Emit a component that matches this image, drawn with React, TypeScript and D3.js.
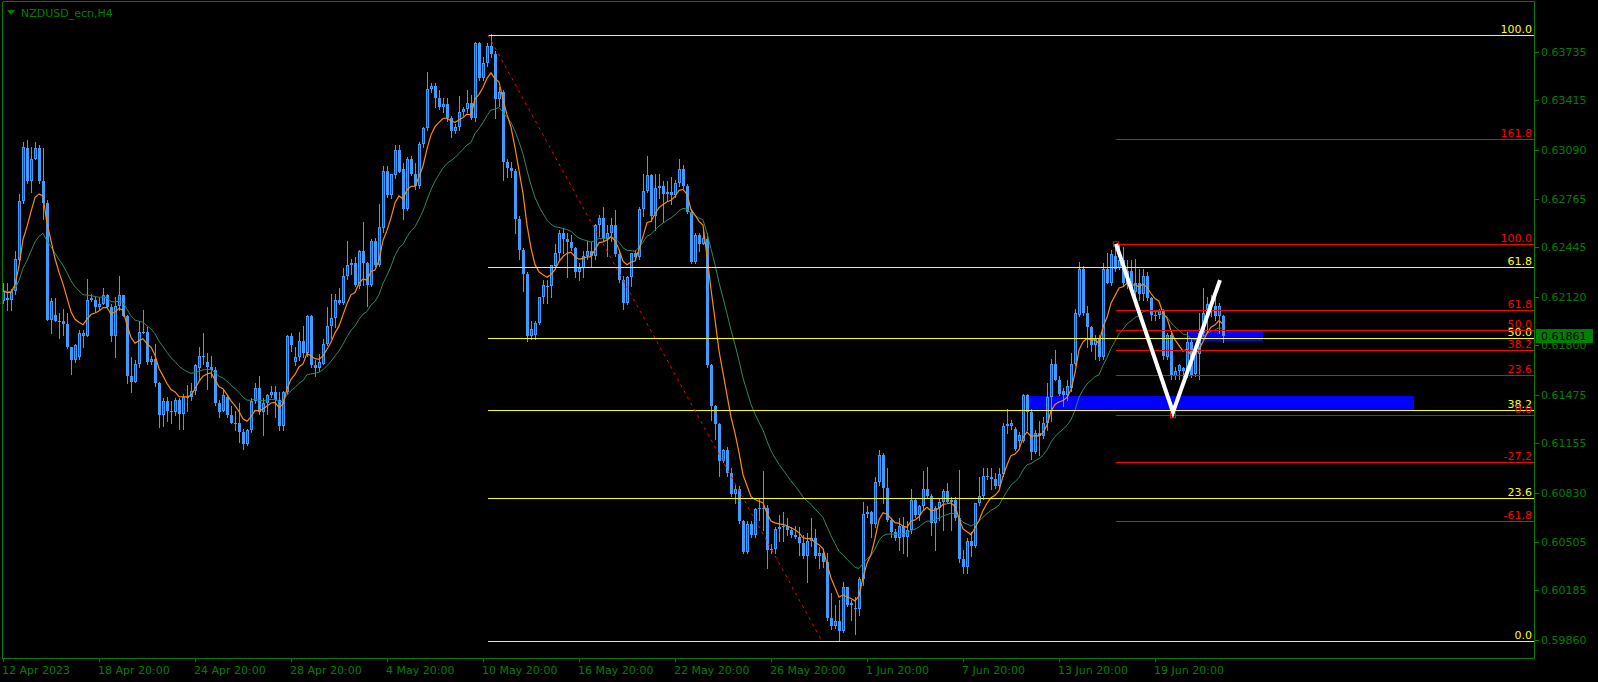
import * as d3 from "d3";

const W = 1598;
const H = 682;

// H4 candles: [open, high, low, close] in pips (price * 10000)
const candles: [number, number, number, number][] = [
  [6209,6221,6208,6216],[6211,6221,6203,6210],[6210,6217,6203,6216],[6216,6242,6214,6237],[6236,6280,6236,6275],
  [6275,6314,6274,6311],[6310,6315,6287,6288],[6288,6311,6281,6303],[6303,6314,6303,6310],[6310,6312,6287,6288],
  [6288,6310,6263,6274],[6274,6276,6197,6197],[6197,6211,6188,6209],[6200,6211,6196,6196],[6196,6201,6185,6196],
  [6196,6204,6187,6194],[6194,6201,6178,6179],[6179,6179,6161,6170],[6170,6181,6169,6180],[6172,6190,6171,6188],
  [6186,6190,6179,6188],[6186,6224,6186,6210],[6210,6214,6209,6211],[6210,6212,6202,6205],[6205,6211,6204,6207],
  [6207,6218,6207,6213],[6213,6214,6205,6205],[6205,6207,6183,6186],[6186,6212,6172,6206],[6206,6226,6203,6213],
  [6213,6213,6199,6199],[6199,6200,6155,6160],[6160,6172,6149,6156],[6156,6170,6156,6168],[6168,6196,6166,6189],
  [6189,6203,6188,6189],[6189,6192,6168,6169],[6169,6173,6168,6171],[6171,6181,6153,6155],[6155,6156,6126,6134],
  [6134,6145,6127,6143],[6143,6146,6130,6137],[6137,6143,6129,6137],[6136,6145,6134,6144],[6144,6145,6125,6135],
  [6135,6148,6125,6146],[6146,6154,6137,6146],[6146,6155,6144,6150],[6150,6168,6148,6167],[6165,6179,6157,6173],
  [6173,6188,6168,6172],[6169,6175,6151,6166],[6166,6173,6159,6164],[6164,6166,6141,6142],[6142,6144,6133,6136],
  [6137,6151,6137,6147],[6146,6147,6133,6134],[6134,6140,6129,6129],[6129,6137,6124,6129],[6129,6142,6116,6123],
  [6123,6125,6112,6115],[6115,6125,6114,6124],[6124,6145,6123,6143],[6143,6155,6142,6152],[6152,6160,6135,6136],
  [6136,6145,6121,6142],[6142,6148,6135,6147],[6147,6153,6146,6149],[6149,6153,6133,6144],[6144,6149,6124,6127],
  [6127,6150,6124,6149],[6149,6187,6148,6186],[6186,6188,6176,6180],[6169,6179,6167,6172],[6172,6189,6170,6183],
  [6183,6193,6172,6175],[6175,6200,6173,6199],[6199,6200,6166,6167],[6167,6170,6160,6165],[6165,6174,6163,6169],
  [6168,6184,6168,6181],[6181,6205,6180,6193],[6193,6214,6185,6198],[6198,6214,6192,6210],[6210,6218,6207,6208],
  [6208,6231,6207,6226],[6226,6249,6224,6233],[6233,6237,6227,6234],[6234,6238,6219,6220],[6219,6243,6218,6242],
  [6242,6261,6220,6234],[6234,6235,6206,6220],[6220,6250,6219,6249],[6249,6251,6232,6233],[6233,6273,6232,6258],
  [6257,6298,6255,6295],[6295,6298,6278,6279],[6279,6293,6277,6293],[6292,6312,6290,6309],[6309,6312,6294,6294],
  [6296,6300,6263,6270],[6270,6304,6269,6303],[6303,6305,6292,6293],[6293,6300,6283,6285],[6285,6314,6284,6313],
  [6313,6324,6311,6323],[6323,6360,6322,6349],[6349,6353,6347,6351],[6351,6353,6337,6343],[6343,6348,6336,6337],
  [6337,6343,6334,6339],[6339,6343,6328,6330],[6330,6331,6317,6321],[6321,6326,6320,6324],[6324,6344,6322,6334],
  [6334,6337,6332,6336],[6336,6348,6334,6340],[6340,6345,6329,6330],[6330,6380,6328,6379],[6379,6380,6355,6356],
  [6356,6370,6355,6366],[6366,6379,6364,6377],[6377,6385,6370,6372],[6372,6374,6330,6342],[6342,6350,6338,6347],
  [6347,6348,6289,6301],[6301,6303,6291,6297],[6297,6301,6291,6295],[6295,6296,6254,6263],[6263,6265,6237,6243],
  [6243,6244,6216,6227],[6227,6228,6183,6186],[6186,6196,6184,6191],[6187,6196,6184,6195],[6195,6212,6194,6212],
  [6212,6223,6208,6220],[6219,6223,6208,6219],[6219,6233,6212,6233],[6232,6247,6231,6241],[6241,6256,6236,6254],
  [6254,6257,6241,6250],[6250,6254,6225,6248],[6248,6253,6243,6244],[6244,6245,6225,6228],[6228,6234,6223,6231],
  [6231,6242,6225,6239],[6239,6249,6237,6242],[6242,6248,6232,6239],[6239,6260,6237,6259],[6259,6266,6252,6264],
  [6264,6271,6249,6250],[6250,6259,6239,6254],[6254,6264,6249,6259],[6259,6269,6239,6240],[6240,6243,6222,6223],
  [6223,6226,6204,6208],[6208,6226,6207,6225],[6225,6241,6219,6241],[6241,6243,6236,6238],[6238,6271,6237,6270],
  [6270,6293,6265,6282],[6282,6305,6281,6292],[6292,6293,6262,6265],[6265,6293,6256,6284],[6284,6293,6277,6285],
  [6285,6288,6261,6280],[6280,6288,6276,6281],[6281,6291,6273,6279],[6279,6289,6278,6287],[6287,6303,6285,6296],
  [6296,6299,6284,6285],[6285,6286,6267,6268],[6268,6270,6234,6235],[6235,6254,6234,6253],[6253,6254,6242,6247],
  [6247,6257,6247,6251],[6250,6254,6166,6167],[6167,6168,6131,6140],[6140,6141,6118,6128],[6128,6129,6094,6104],
  [6104,6112,6103,6111],[6111,6113,6094,6096],[6096,6099,6081,6082],[6082,6088,6076,6085],[6085,6087,6063,6064],
  [6064,6065,6043,6044],[6044,6064,6043,6062],[6062,6064,6054,6055],[6055,6073,6054,6072],[6072,6079,6065,6073],
  [6073,6097,6058,6073],[6073,6075,6033,6045],[6045,6049,6043,6046],[6046,6060,6043,6059],[6059,6068,6051,6060],
  [6060,6070,6051,6061],[6061,6066,6055,6058],[6058,6060,6054,6055],[6055,6061,6053,6054],[6054,6060,6042,6050],
  [6050,6055,6040,6041],[6041,6056,6024,6051],[6051,6066,6048,6053],[6053,6059,6040,6041],[6041,6047,6033,6043],
  [6043,6046,6034,6037],[6037,6043,5999,6000],[6000,6017,5993,5995],[5995,6009,5994,5998],[5998,6012,5986,5992],
  [5992,6024,5991,6021],[6021,6021,6008,6009],[6009,6012,5999,6010],[6007,6014,5990,6006],[6006,6027,6002,6026],
  [6026,6077,6022,6069],[6069,6074,6067,6070],[6070,6071,6054,6062],[6062,6093,6060,6090],[6090,6111,6088,6108],
  [6108,6109,6076,6086],[6086,6099,6064,6065],[6065,6066,6054,6057],[6057,6059,6052,6053],[6053,6066,6045,6061],
  [6061,6067,6043,6054],[6054,6064,6041,6058],[6058,6085,6056,6078],[6078,6079,6067,6068],[6068,6075,6065,6074],
  [6074,6097,6072,6085],[6085,6100,6080,6081],[6081,6082,6055,6063],[6063,6074,6045,6073],[6073,6079,6065,6077],
  [6077,6085,6058,6084],[6084,6089,6077,6077],[6077,6080,6058,6078],[6078,6080,6065,6066],[6066,6098,6037,6039],
  [6039,6045,6030,6034],[6034,6053,6030,6051],[6051,6057,6041,6048],[6048,6076,6047,6076],[6076,6093,6075,6081],
  [6081,6099,6079,6094],[6094,6099,6092,6093],[6093,6099,6085,6092],[6092,6096,6086,6087],[6087,6099,6086,6095],
  [6095,6129,6094,6127],[6128,6138,6122,6127],[6127,6131,6125,6129],[6125,6126,6111,6112],[6117,6123,6113,6121],
  [6117,6148,6116,6147],[6147,6148,6124,6136],[6136,6138,6105,6110],[6110,6124,6109,6122],[6122,6130,6108,6120],
  [6120,6133,6119,6129],[6129,6155,6124,6146],[6146,6171,6130,6168],[6168,6177,6157,6157],[6157,6160,6147,6148],
  [6150,6152,6140,6147],[6147,6157,6144,6153],[6152,6175,6150,6168],[6168,6204,6167,6201],[6200,6235,6199,6230],
  [6230,6232,6200,6201],[6201,6206,6179,6192],[6192,6193,6176,6180],[6180,6187,6171,6185],[6185,6187,6170,6172],
  [6172,6234,6171,6230],[6230,6241,6221,6221],[6221,6243,6220,6240],[6239,6246,6229,6230],[6231,6247,6230,6236],
  [6236,6245,6219,6221],[6221,6236,6218,6229],[6229,6236,6214,6215],[6215,6237,6211,6221],[6221,6230,6210,6214],
  [6214,6230,6210,6226],[6226,6228,6210,6211],[6211,6212,6197,6200],[6200,6203,6197,6199],[6200,6204,6198,6203],
  [6203,6204,6171,6173],[6172,6188,6171,6187],[6187,6188,6158,6160],[6160,6166,6158,6163],[6163,6168,6158,6167],
  [6165,6166,6160,6163],[6163,6189,6159,6182],[6182,6185,6159,6160],[6161,6178,6160,6176],[6174,6201,6158,6188],
  [6188,6218,6186,6201],[6201,6212,6188,6207],[6207,6213,6199,6206],[6206,6212,6197,6199],[6199,6208,6188,6206],
  [6199,6200,6182,6186],
];

const priceTicks = [0.63735, 0.63415, 0.6309, 0.62765, 0.62445, 0.6212, 0.618, 0.61475, 0.61155, 0.6083, 0.60505, 0.60185, 0.5986];
const timeLabels = ["12 Apr 2023", "18 Apr 20:00", "24 Apr 20:00", "28 Apr 20:00", "4 May 20:00", "10 May 20:00", "16 May 20:00", "22 May 20:00", "26 May 20:00", "1 Jun 20:00", "7 Jun 20:00", "13 Jun 20:00", "19 Jun 20:00"];
const barsPerLabel = 24;

// big fibo (yellow) and small fibo (red): anchors as [bar, price]
const fiboMain = { a: [121.25, 0.63845], b: [204.75, 0.5985] };
const fiboMainLevels = [
  { r: 100, label: "100.0" }, { r: 61.8, label: "61.8" }, { r: 50, label: "50.0" },
  { r: 38.2, label: "38.2" }, { r: 23.6, label: "23.6" }, { r: 0, label: "0.0" },
];
const fiboSmall = { a: [278.25, 0.62466], b: [292.5, 0.61339] };
const fiboSmallLevels = [
  { r: 161.8, label: "161.8" }, { r: 100, label: "100.0" }, { r: 61.8, label: "61.8" },
  { r: 50, label: "50.0" }, { r: 38.2, label: "38.2" }, { r: 23.6, label: "23.6" },
  { r: 0, label: "0.0" }, { r: -27.2, label: "-27,2" }, { r: -61.8, label: "-61,8" },
];
const zigzag: [number, number][] = [[278.25, 0.62468], [292.5, 0.6136], [304.25, 0.6223]];
const zones = [
  { from: 255.75, to: 352.75, top: 0.61466, bottom: 0.61374 },
  { from: 296, to: 315, top: 0.61894, bottom: 0.61828 },
];
const lastPrice = 0.61861;
const fastPeriod = 8;
const slowPeriod = 21;

const GREEN = "#008000";
const BAR = "#3f9cff";
const BULL = "#1f3fff";
const FONT = "'DejaVu Sans', Verdana, sans-serif";

function ema(values: number[], n: number) {
  const k = 2 / (n + 1);
  let p = values[0];
  return values.map((v) => (p = p + k * (v - p)));
}

export default function App() {
  const x = d3.scaleLinear().domain([0, 383]).range([3, 1535]);
  const y = d3.scaleLinear().domain([0.5986, 0.63735]).range([639.7, 51.7]);
  const right = 1534;

  const data = candles.map((c) => c.map((v) => v / 10000));
  const closes = data.map((d) => d[3]);
  const fast = ema(closes, fastPeriod);
  const slow = ema(closes, slowPeriod);
  const line = d3.line<number>().x((_, i) => x(i)).y((v) => y(v));

  const fiboPrice = (f: { a: number[]; b: number[] }, r: number) => {
    const hi = Math.max(f.a[1], f.b[1]);
    const lo = Math.min(f.a[1], f.b[1]);
    return lo + (r / 100) * (hi - lo);
  };

  const fiboGroup = (f: { a: number[]; b: number[] }, levels: { r: number; label: string }[], color: string, markers: boolean) => (
    <g>
      {levels.map((l) => {
        const yy = Math.round(y(fiboPrice(f, l.r))) + 0.5;
        return (
          <g key={l.label + l.r}>
            <line x1={x(f.a[0])} x2={right} y1={yy} y2={yy} stroke={color} strokeWidth={1} />
            <text x={right - 2} y={yy - 3} textAnchor="end" fill={color} fontSize={11} fontFamily={FONT}>{l.label}</text>
          </g>
        );
      })}
      <line x1={x(f.a[0])} y1={y(f.a[1])} x2={x(f.b[0])} y2={y(f.b[1])} stroke="#ff0000" strokeWidth={1} strokeDasharray="3,4" />
      {markers && [f.a, f.b].map((p, i) => (
        <rect key={i} x={x(p[0]) - 2.5} y={y(p[1]) - 2.5} width={5} height={5} fill="none" stroke="#ff0000" strokeWidth={1} />
      ))}
    </g>
  );

  return (
    <svg width={W} height={H} style={{ position: "absolute", left: 0, top: 0, display: "block" }}>
      <rect width={W} height={H} fill="#000" />

      {zones.map((z, i) => (
        <rect key={i} x={x(z.from)} y={y(z.top)} width={x(z.to) - x(z.from)} height={y(z.bottom) - y(z.top)} fill="#0000ff" />
      ))}

      <g shapeRendering="crispEdges">
        {data.map((d, i) => {
          const [o, h, l, c] = d;
          const cx = x(i);
          const top = y(Math.max(o, c));
          const bot = y(Math.min(o, c));
          const bh = Math.max(1, bot - top);
          const bull = c > o;
          return (
            <g key={i}>
              <rect x={cx} y={y(Math.max(h, o, c))} width={1} height={y(Math.min(l, o, c)) - y(Math.max(h, o, c)) + 1} fill={BAR} />
              <rect x={cx - 1} y={top} width={3} height={bh} fill={BAR} />
              {bull && bh > 2 && <rect x={cx} y={top + 1} width={1} height={bh - 2} fill={BULL} />}
            </g>
          );
        })}
      </g>

      <path d={line(slow) ?? ""} fill="none" stroke="#2e8b57" strokeWidth={1} />
      <path d={line(fast) ?? ""} fill="none" stroke="#ff8c00" strokeWidth={1.2} />

      {fiboGroup(fiboMain, fiboMainLevels, "#ffff00", false)}
      {fiboGroup(fiboSmall, fiboSmallLevels, "#ff0000", true)}

      <polyline
        points={zigzag.map((p) => `${x(p[0])},${y(p[1])}`).join(" ")}
        fill="none"
        stroke="#ffffff"
        strokeWidth={4}
        strokeLinejoin="miter"
      />

      {/* frame */}
      <g shapeRendering="crispEdges" stroke={GREEN} strokeWidth={1}>
        <line x1={2.5} x2={2.5} y1={1.5} y2={658.5} />
        <line x1={2.5} x2={1534.5} y1={1.5} y2={1.5} />
        <line x1={1534.5} x2={1534.5} y1={1.5} y2={658.5} />
        <line x1={2.5} x2={1534.5} y1={658.5} y2={658.5} />
      </g>

      {/* price axis */}
      {priceTicks.map((p) => (
        <g key={p}>
          <line x1={1535} x2={1539} y1={Math.round(y(p)) + 0.5} y2={Math.round(y(p)) + 0.5} stroke={GREEN} />
          <text x={1541} y={y(p) + 4} fill={GREEN} fontSize={11} fontFamily={FONT}>{p.toFixed(5)}</text>
        </g>
      ))}

      {/* time axis */}
      {timeLabels.map((t, i) => {
        const tx = x(i * barsPerLabel);
        return (
          <g key={t}>
            <line x1={tx + 0.5} x2={tx + 0.5} y1={658} y2={662} stroke={GREEN} />
            <text x={tx - 1} y={674} fill={GREEN} fontSize={11} fontFamily={FONT}>{t}</text>
          </g>
        );
      })}

      {/* current price */}
      <rect x={1536} y={y(lastPrice) - 7} width={57} height={14} fill={GREEN} />
      <text x={1541} y={y(lastPrice) + 4} fill="#000" fontSize={11} fontFamily={FONT}>{lastPrice.toFixed(5)}</text>

      {/* title */}
      <polygon points="7,10 15,10 11,15" fill={GREEN} />
      <text x={21} y={17} fill={GREEN} fontSize={11} fontFamily={FONT}>NZDUSD_ecn,H4</text>
    </svg>
  );
}
